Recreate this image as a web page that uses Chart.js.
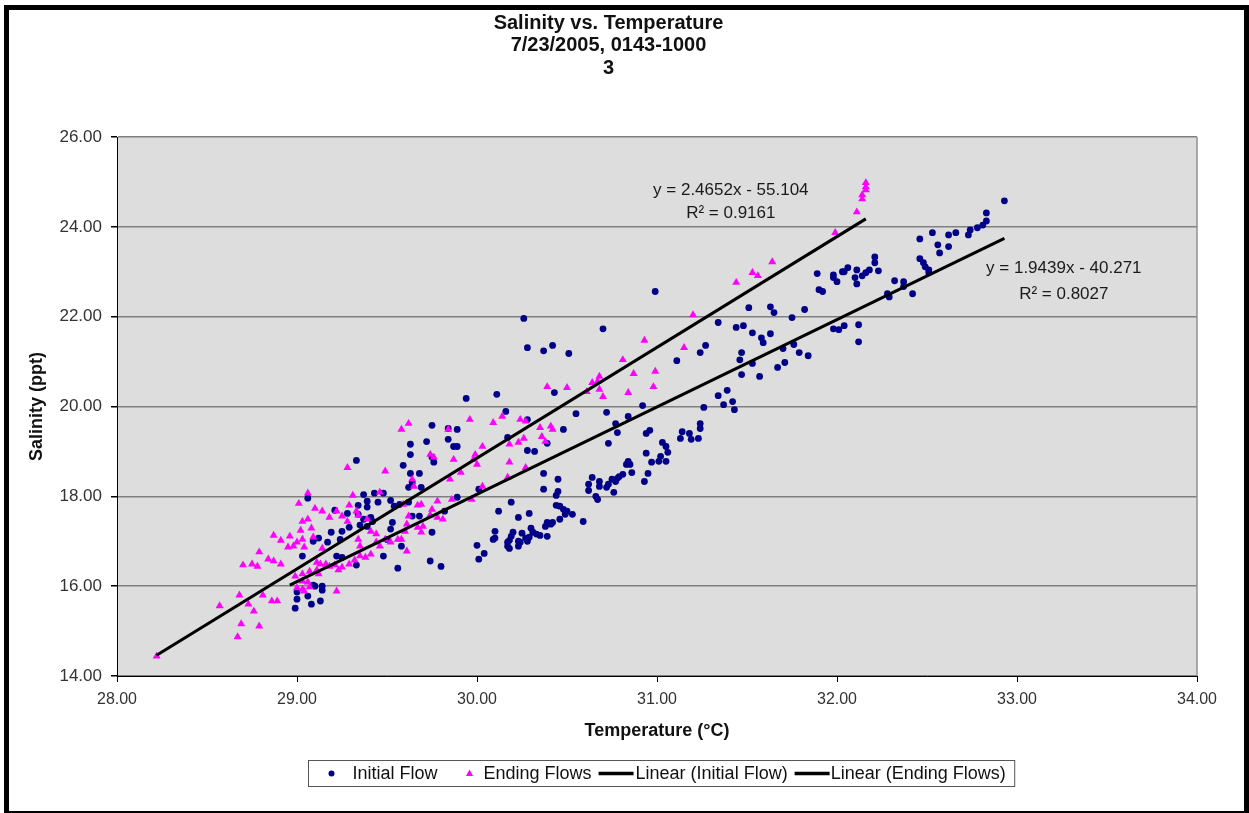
<!DOCTYPE html>
<html><head><meta charset="utf-8">
<script src="https://cdn.jsdelivr.net/npm/chart.js@4.4.1/dist/chart.umd.min.js"></script>
<style>
html,body{margin:0;padding:0;background:#fff;overflow:hidden;}
#frame{position:absolute;left:4px;top:5px;width:1235px;height:801px;border:5px solid #000;}
#c{position:absolute;left:0;top:0;}
</style></head><body>
<div id="frame"></div>
<canvas id="c" width="1249" height="813"></canvas>
<script>
const titleLines = ['Salinity vs. Temperature', '7/23/2005, 0143-1000', '3'];
const xAxisTitle = 'Temperature (°C)';
const yAxisTitle = 'Salinity (ppt)';
const seriesNames = ['Initial Flow', 'Ending Flows', 'Linear (Initial Flow)', 'Linear (Ending Flows)'];
const xRange = [28, 34];
const yRange = [14, 26];

// [temperature °C, salinity ppt]
const initialFlow = [
[29.33,18.80],[29.63,19.16],[29.63,18.93],[29.72,19.22],[29.75,19.58],[29.84,19.51],[29.89,19.49],[29.84,19.27],[29.87,19.11],[29.89,19.11],
[29.59,18.69],[29.63,18.51],[29.68,18.51],[29.75,18.87],[29.76,18.76],[29.62,18.20],[29.69,18.20],[29.64,18.31],[29.06,17.96],[29.37,18.04],
[29.43,18.07],[29.48,18.07],[29.52,17.91],[29.34,17.80],[29.39,17.89],[29.39,17.76],[29.45,17.87],[29.21,17.69],[29.28,17.62],[29.34,17.60],
[29.37,17.49],[29.41,17.53],[29.54,17.78],[29.57,17.82],[29.62,17.87],[29.29,17.31],[29.35,17.36],[29.39,17.33],[29.42,17.44],[29.19,17.20],
[29.25,17.22],[29.24,17.04],[29.12,17.07],[29.09,17.00],[29.52,17.27],[29.53,17.42],[29.58,16.89],[29.50,17.04],[29.48,16.67],[29.64,17.56],
[29.68,17.56],[29.75,17.20],[29.82,17.67],[29.74,16.56],[29.80,16.44],[29.56,16.40],[29.33,16.47],[29.22,16.67],[29.25,16.64],[29.03,16.67],
[29.09,16.02],[29.10,16.00],[29.14,16.00],[29.14,15.91],[29.00,15.87],[29.00,15.71],[29.06,15.78],[29.08,15.60],[29.13,15.67],[28.99,15.51],
[29.89,17.98],[29.94,20.18],[30.01,18.16],[29.17,16.98],
[30.99,22.56],[30.26,21.96],[30.70,21.73],[30.28,21.31],[30.37,21.24],[30.42,21.36],[30.51,21.18],[30.43,20.31],[30.11,20.27],[30.16,19.89],
[30.28,19.71],[30.55,19.84],[30.72,19.87],[30.92,20.02],[30.48,19.49],[30.39,19.18],[30.28,19.02],[30.32,19.00],[30.17,19.31],[30.77,19.62],
[30.78,19.42],[30.84,19.78],[30.73,19.18],[30.94,19.40],[30.96,19.47],[31.11,21.02],[31.24,21.20],[31.27,21.36],[31.34,21.87],[31.44,21.76],
[31.47,21.20],[31.34,20.24],[31.39,20.36],[31.37,20.04],[31.42,20.11],[31.43,19.93],[31.26,19.98],[31.24,19.62],[31.24,19.51],[31.23,19.29],
[31.18,19.40],[31.19,19.27],[31.14,19.44],[31.13,19.29],[31.03,19.20],[31.05,19.11],[31.06,18.98],[31.02,18.89],[31.01,18.78],[31.05,18.78],
[30.94,18.96],[30.97,18.76],[30.95,18.51],[30.93,18.33],[30.84,18.78],[30.85,18.71],[30.83,18.71],[30.86,18.53],[30.81,18.49],[30.79,18.44],
[30.78,18.40],[30.77,18.33],[30.75,18.38],[30.73,18.27],[30.72,18.20],[30.76,18.09],[30.68,18.33],[30.68,18.22],[30.64,18.42],[30.62,18.27],
[30.62,18.13],[30.66,18.00],[30.67,17.93],[30.37,18.51],[30.45,18.38],[30.37,18.16],[30.45,18.11],[30.44,18.02],[30.19,17.87],[30.12,17.67],
[30.23,17.53],[30.29,17.62],[30.44,17.80],[30.46,17.78],[30.48,17.71],[30.50,17.67],[30.49,17.60],[30.53,17.60],[30.46,17.49],[30.42,17.42],
[30.41,17.38],[30.38,17.33],[30.39,17.42],[30.59,17.44],[30.30,17.29],[30.33,17.16],[30.35,17.13],[30.39,17.11],[30.10,17.22],[30.10,17.07],
[30.20,17.20],[30.19,17.11],[30.18,17.02],[30.23,17.00],[30.24,16.98],[30.28,17.00],[30.29,17.09],[30.17,16.89],[30.18,16.84],[30.23,16.89],
[30.00,16.91],[30.04,16.73],[30.01,16.60],[30.31,17.20],[30.27,17.07],[30.25,17.18],[30.09,17.04],[30.17,16.98],
[32.93,24.58],[32.83,24.31],[32.83,24.13],[32.81,24.04],[32.78,23.98],[32.74,23.93],[32.73,23.82],[32.66,23.87],[32.62,23.82],[32.62,23.56],
[32.57,23.42],[32.56,23.60],[32.53,23.87],[32.46,23.73],[32.46,23.29],[32.48,23.20],[32.49,23.11],[32.51,23.04],[32.51,22.98],[32.32,22.80],
[32.37,22.78],[32.37,22.67],[32.42,22.51],[32.28,22.51],[32.29,22.44],[32.21,23.33],[32.21,23.20],[32.18,23.04],[32.23,23.02],[32.16,22.98],
[32.14,22.91],[32.11,23.04],[32.10,22.87],[32.11,22.73],[32.06,23.09],[32.04,23.00],[32.03,23.00],[32.00,22.78],[31.98,22.93],[31.98,22.87],
[31.89,22.96],[31.90,22.60],[31.92,22.56],[31.82,22.16],[31.75,21.98],[31.63,22.22],[31.65,22.09],[31.51,22.20],[31.48,21.80],[31.53,21.64],
[31.58,21.53],[31.59,21.42],[31.63,21.62],[31.98,21.73],[32.01,21.71],[32.04,21.80],[32.12,21.82],[32.12,21.44],[31.70,21.29],[31.76,21.38],
[31.79,21.20],[31.84,21.13],[31.71,20.98],[31.67,20.87],[31.53,20.96],[31.46,21.04],[31.47,20.71],[31.57,20.67]
];

const endingFlows = [
[28.22,14.44],[28.57,15.56],[28.69,15.16],[28.67,14.87],[28.79,15.11],[28.68,15.80],[28.73,15.60],[28.76,15.44],[28.81,15.80],[28.86,15.67],
[28.89,15.67],[28.70,16.47],[28.75,16.49],[28.78,16.44],[28.84,16.60],[28.87,16.56],[28.91,16.49],[28.79,16.76],[28.87,17.13],[28.91,17.02],
[28.96,17.11],[29.00,16.98],[29.02,17.24],[29.01,17.84],[29.06,18.07],[29.28,18.64],[29.49,18.56],[29.58,19.49],[29.62,19.62],[29.84,19.49],
[29.74,18.93],[29.76,18.87],[29.87,18.82],[29.85,18.38],[29.64,18.38],[29.65,18.22],[29.31,18.02],[29.46,18.09],[29.59,17.82],[29.67,17.80],
[29.69,17.82],[29.78,17.89],[29.86,17.93],[29.10,17.73],[29.14,17.67],[29.18,17.53],[29.22,17.67],[29.25,17.56],[29.28,17.44],[29.29,17.80],
[29.33,17.67],[29.34,17.58],[29.39,17.49],[29.03,17.44],[29.06,17.49],[29.08,17.29],[29.03,17.04],[28.98,16.89],[28.95,16.87],[29.04,16.87],
[29.14,16.84],[29.09,17.09],[29.34,17.04],[29.35,16.89],[29.41,17.22],[29.44,17.16],[29.44,16.98],[29.46,16.89],[29.49,17.04],[29.52,16.98],
[29.56,17.04],[29.58,17.04],[29.60,17.22],[29.61,17.38],[29.62,17.56],[29.67,17.31],[29.70,17.33],[29.75,17.71],[29.74,17.58],[29.78,17.53],
[29.81,17.49],[29.69,17.20],[29.61,16.78],[29.11,16.53],[29.13,16.49],[29.16,16.49],[29.18,16.44],[29.21,16.47],[29.25,16.42],
[29.29,16.49],[29.23,16.36],[29.32,16.58],[29.35,16.67],[29.38,16.64],[29.41,16.71],[29.07,16.33],[29.11,16.36],[29.12,16.27],[28.99,16.22],
[29.03,16.27],[29.03,16.11],[29.06,16.09],[29.07,15.98],[29.00,15.96],[29.03,15.93],[29.04,15.89],[29.22,15.89],
[31.44,22.76],[31.20,22.04],[30.93,21.47],[30.81,21.04],[30.87,20.73],[30.99,20.78],[31.15,21.31],[30.68,20.67],[30.67,20.56],[30.64,20.53],
[30.68,20.38],[30.70,20.22],[30.61,20.33],[30.84,20.31],[30.98,20.44],[30.39,20.44],[30.50,20.42],[29.96,19.71],[30.09,19.64],[30.14,19.78],
[30.24,19.71],[30.27,19.67],[30.35,19.53],[30.41,19.56],[30.42,19.49],[30.36,19.33],[30.38,19.22],[30.26,19.29],[30.23,19.20],[30.18,19.16],
[30.03,19.11],[29.99,18.93],[29.98,18.82],[30.00,18.71],[30.18,18.76],[30.27,18.64],[29.91,18.53],[30.17,18.42],[30.03,18.22],[29.97,17.93],
[31.53,22.98],[31.56,22.91],[31.64,23.22],[31.99,23.87],[32.11,24.33],[32.14,24.62],[32.14,24.71],[32.16,24.82],[32.16,24.89],[32.16,24.98]
];

// Excel linear trendlines: slope, intercept, x-extent
const initialTrend = {slope: 1.9439, intercept: -40.271, xFrom: 28.96, xTo: 32.93};
const endingTrend = {slope: 2.4652, intercept: -55.104, xFrom: 28.22, xTo: 32.16};

const eqLabels = [
  {text: 'y = 2.4652x - 55.104', x: 31.41, y: 24.82},
  {text: 'R\u00B2 = 0.9161', x: 31.41, y: 24.31},
  {text: 'y = 1.9439x - 40.271', x: 33.26, y: 23.07},
  {text: 'R\u00B2 = 0.8027', x: 33.26, y: 22.49}
];

const FONT = "'Liberation Sans', Arial, Helvetica, sans-serif";
const BLUE = '#000088';
const PINK = '#ff00ff';

const toXY = arr => arr.map(p => ({x: p[0], y: p[1]}));
const trendPts = t => [t.xFrom, t.xTo].map(x => ({x: x, y: t.slope * x + t.intercept}));

Chart.defaults.font.family = FONT;

const plotBg = {
  id: 'plotBg',
  beforeDraw(chart) {
    const {ctx, chartArea: a} = chart;
    ctx.save();
    ctx.fillStyle = '#dddddd';
    ctx.fillRect(a.left, a.top, a.right - a.left, a.bottom - a.top);
    ctx.restore();
  },
  afterDraw(chart) {
    const {ctx, chartArea: a, scales} = chart;
    ctx.save();
    // right border
    ctx.strokeStyle = '#909090';
    ctx.lineWidth = 1.5;
    ctx.beginPath();
    ctx.moveTo(a.right, a.top);
    ctx.lineTo(a.right, a.bottom);
    ctx.stroke();
    // equation labels
    ctx.fillStyle = '#1a1a1a';
    ctx.font = '17px ' + FONT;
    ctx.textAlign = 'center';
    ctx.textBaseline = 'middle';
    eqLabels.forEach(l => {
      ctx.fillText(l.text, scales.x.getPixelForValue(l.x), scales.y.getPixelForValue(l.y));
    });
    // legend
    ctx.font = '18px ' + FONT;
    const w = seriesNames.map(s => ctx.measureText(s).width);
    const parts = [
      {icon: 'dot', pre: 13, iw: 20, gap: 11},
      {icon: 'tri', pre: 32 - 9, iw: 18, gap: 5},
      {icon: 'line', pre: 7, iw: 35, gap: 2},
      {icon: 'line', pre: 7, iw: 35, gap: 1}
    ];
    let total = 0;
    parts.forEach((p, i) => { total += p.pre + p.iw + p.gap + w[i]; });
    total += 9;
    const cx = (a.left + a.right) / 2 + 4;
    const boxL = Math.round(cx - total / 2) + 0.5;
    const boxT = Math.round(a.bottom + 84) + 0.5;
    const boxH = 26;
    ctx.fillStyle = '#ffffff';
    ctx.fillRect(boxL, boxT, total, boxH);
    ctx.strokeStyle = '#555';
    ctx.lineWidth = 1;
    ctx.strokeRect(boxL, boxT, total, boxH);
    const cy = boxT + boxH / 2;
    let x = boxL;
    ctx.textAlign = 'left';
    parts.forEach((p, i) => {
      x += p.pre;
      const mid = x + p.iw / 2;
      if (p.icon === 'dot') {
        ctx.fillStyle = BLUE;
        ctx.beginPath(); ctx.arc(mid, cy, 3, 0, Math.PI * 2); ctx.fill();
      } else if (p.icon === 'tri') {
        ctx.fillStyle = PINK;
        ctx.beginPath();
        ctx.moveTo(mid, cy - 4); ctx.lineTo(mid + 3.5, cy + 2.5); ctx.lineTo(mid - 3.5, cy + 2.5);
        ctx.closePath(); ctx.fill();
      } else {
        ctx.strokeStyle = '#000'; ctx.lineWidth = 3.5;
        ctx.beginPath(); ctx.moveTo(x, cy); ctx.lineTo(x + p.iw, cy); ctx.stroke();
      }
      x += p.iw + p.gap;
      ctx.fillStyle = '#111';
      ctx.fillText(seriesNames[i], x, cy + 1);
      x += w[i];
    });
    ctx.restore();
  }
};

new Chart(document.getElementById('c'), {
  type: 'scatter',
  data: {
    datasets: [
      {label: seriesNames[2], data: trendPts(initialTrend), showLine: true, borderColor: '#000', borderWidth: 3, pointRadius: 0, order: 0},
      {label: seriesNames[3], data: trendPts(endingTrend), showLine: true, borderColor: '#000', borderWidth: 3, pointRadius: 0, order: 0},
      {label: seriesNames[1], data: toXY(endingFlows), pointStyle: 'triangle', pointRadius: 4.6, backgroundColor: PINK, borderWidth: 0, order: 1},
      {label: seriesNames[0], data: toXY(initialFlow), pointStyle: 'circle', pointRadius: 3.4, backgroundColor: BLUE, borderWidth: 0, order: 2}
    ]
  },
  options: {
    responsive: false,
    animation: false,
    layout: {padding: {left: 20, right: 52, top: 12, bottom: 67}},
    plugins: {
      legend: {display: false},
      tooltip: {enabled: false},
      title: {
        display: true, text: titleLines, color: '#111',
        font: {size: 20, weight: 'bold', lineHeight: 1.125},
        padding: {top: 0, bottom: 57.5}
      }
    },
    scales: {
      x: {
        type: 'linear', position: 'bottom', min: xRange[0], max: xRange[1],
        ticks: {stepSize: 1, callback: v => Number(v).toFixed(2), color: '#333', font: {size: 16}, padding: 8, maxRotation: 0},
        grid: {drawOnChartArea: false, drawTicks: true, tickLength: 6, tickColor: '#000'},
        border: {color: '#000', width: 1},
        title: {display: true, text: xAxisTitle, color: '#111', font: {size: 18, weight: 'bold'}, padding: {top: 0, bottom: 4}},
        afterFit(s) { s.height = 70; }
      },
      y: {
        type: 'linear', min: yRange[0], max: yRange[1],
        ticks: {stepSize: 2, callback: v => Number(v).toFixed(2), color: '#333', font: {size: 17}, padding: 9},
        grid: {color: '#808080', lineWidth: 1.5, drawTicks: true, tickLength: 6, tickColor: '#000'},
        border: {color: '#000', width: 1},
        title: {display: true, text: yAxisTitle, color: '#111', font: {size: 18, weight: 'bold'}, padding: {top: 6, bottom: 0}},
        afterFit(s) { s.width = 97; }
      }
    }
  },
  plugins: [plotBg]
});
</script>
</body></html>
